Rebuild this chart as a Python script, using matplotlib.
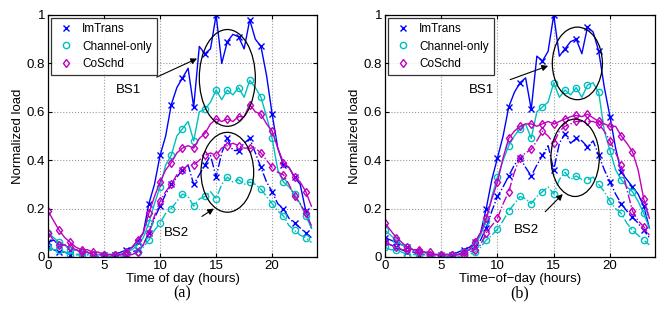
import numpy as np
import matplotlib
matplotlib.use("Agg")
import matplotlib.pyplot as plt
from matplotlib.patches import Ellipse
from matplotlib.lines import Line2D

plt.rcParams['font.family'] = ['Liberation Sans', 'DejaVu Sans']

# time axis: half-hour samples
hours = np.arange(48) * 0.5

# ---- panel (a) ----
a_imtrans_bs1 = [0.06,0.07,0.05,0.05,0.03,0.03,0.02,0.02,0.01,0.01,0.01,0.01,0.01,0.02,0.03,0.04,
                 0.06,0.10,0.22,0.30,0.42,0.50,0.63,0.70,0.74,0.78,0.62,0.87,0.84,0.86,1.00,0.80,
                 0.89,0.92,0.91,0.86,0.98,0.90,0.87,0.75,0.59,0.45,0.38,0.37,0.33,0.30,0.19,0.12]
a_channel_bs1 = [0.10,0.08,0.06,0.05,0.03,0.03,0.02,0.02,0.01,0.01,0.01,0.01,0.01,0.01,0.02,0.03,
                 0.05,0.08,0.14,0.22,0.29,0.38,0.42,0.50,0.53,0.56,0.48,0.60,0.61,0.64,0.69,0.65,
                 0.69,0.67,0.70,0.66,0.73,0.70,0.66,0.58,0.49,0.36,0.31,0.29,0.26,0.22,0.17,0.12]
a_coschd_bs1 = [0.19,0.15,0.11,0.08,0.06,0.04,0.03,0.03,0.02,0.02,0.01,0.01,0.01,0.01,0.02,0.04,
                0.07,0.10,0.18,0.25,0.31,0.36,0.39,0.43,0.45,0.46,0.45,0.49,0.51,0.55,0.57,0.56,
                0.57,0.56,0.58,0.58,0.63,0.60,0.59,0.55,0.52,0.45,0.39,0.37,0.33,0.31,0.27,0.21]
a_imtrans_bs2 = [0.04,0.03,0.02,0.02,0.01,0.01,0.01,0.01,0.01,0.00,0.00,0.00,0.01,0.01,0.01,0.02,
                 0.03,0.05,0.10,0.16,0.21,0.26,0.30,0.33,0.36,0.38,0.30,0.34,0.38,0.42,0.33,0.43,
                 0.49,0.44,0.44,0.47,0.49,0.43,0.37,0.31,0.27,0.22,0.20,0.16,0.14,0.12,0.10,0.08]
a_channel_bs2 = [0.04,0.03,0.03,0.02,0.01,0.01,0.01,0.01,0.00,0.00,0.00,0.00,0.00,0.00,0.01,0.01,
                 0.02,0.04,0.07,0.11,0.14,0.18,0.20,0.23,0.26,0.25,0.21,0.24,0.25,0.27,0.24,0.30,
                 0.33,0.31,0.32,0.30,0.31,0.30,0.28,0.25,0.22,0.19,0.17,0.13,0.11,0.09,0.08,0.06]
a_coschd_bs2 = [0.10,0.07,0.05,0.05,0.04,0.03,0.02,0.02,0.01,0.01,0.01,0.01,0.01,0.01,0.01,0.01,
                0.02,0.05,0.10,0.17,0.23,0.27,0.30,0.34,0.36,0.38,0.38,0.40,0.42,0.43,0.42,0.45,
                0.46,0.47,0.46,0.45,0.45,0.45,0.43,0.40,0.37,0.35,0.34,0.30,0.25,0.22,0.18,0.13]

# ---- panel (b) ----
b_imtrans_bs1 = [0.08,0.07,0.06,0.05,0.04,0.03,0.02,0.02,0.01,0.01,0.01,0.01,0.01,0.02,0.03,0.04,
                 0.06,0.10,0.20,0.32,0.41,0.50,0.62,0.68,0.72,0.74,0.61,0.83,0.81,0.85,1.00,0.83,
                 0.86,0.89,0.90,0.84,0.95,0.93,0.85,0.70,0.58,0.45,0.35,0.32,0.29,0.26,0.21,0.12]
b_channel_bs1 = [0.11,0.09,0.07,0.05,0.04,0.03,0.02,0.02,0.01,0.01,0.01,0.01,0.01,0.01,0.02,0.03,
                 0.05,0.09,0.15,0.25,0.33,0.40,0.46,0.50,0.53,0.55,0.49,0.60,0.62,0.64,0.72,0.66,
                 0.69,0.67,0.70,0.66,0.71,0.72,0.68,0.52,0.44,0.36,0.32,0.29,0.27,0.23,0.18,0.12]
b_coschd_bs1 = [0.14,0.11,0.08,0.06,0.04,0.03,0.03,0.02,0.02,0.01,0.01,0.01,0.01,0.01,0.02,0.03,
                0.06,0.10,0.16,0.24,0.31,0.41,0.49,0.52,0.54,0.55,0.55,0.54,0.55,0.56,0.55,0.56,
                0.57,0.58,0.585,0.58,0.59,0.575,0.56,0.55,0.54,0.54,0.50,0.47,0.435,0.36,0.24,0.16]
b_imtrans_bs2 = [0.06,0.05,0.04,0.03,0.02,0.02,0.01,0.01,0.01,0.01,0.00,0.00,0.01,0.01,0.02,0.03,
                 0.04,0.07,0.12,0.19,0.25,0.29,0.335,0.38,0.41,0.37,0.335,0.38,0.42,0.46,0.36,0.47,
                 0.51,0.47,0.49,0.48,0.455,0.48,0.42,0.36,0.31,0.26,0.22,0.19,0.165,0.14,0.11,0.08]
b_channel_bs2 = [0.04,0.03,0.03,0.02,0.01,0.01,0.01,0.01,0.00,0.00,0.00,0.00,0.00,0.00,0.01,0.01,
                 0.02,0.04,0.07,0.09,0.115,0.15,0.19,0.22,0.25,0.24,0.22,0.25,0.27,0.29,0.26,0.32,
                 0.35,0.32,0.335,0.32,0.32,0.33,0.30,0.27,0.23,0.20,0.18,0.14,0.11,0.09,0.07,0.05]
b_coschd_bs2 = [0.06,0.05,0.04,0.03,0.03,0.02,0.02,0.01,0.01,0.01,0.01,0.01,0.01,0.01,0.01,0.02,
                0.03,0.05,0.10,0.13,0.16,0.22,0.27,0.35,0.41,0.43,0.445,0.48,0.52,0.50,0.47,0.52,
                0.54,0.55,0.56,0.56,0.56,0.56,0.55,0.52,0.48,0.43,0.38,0.28,0.19,0.15,0.125,0.09]

series_names = ["ImTrans", "Channel-only", "CoSchd"]
colors = ["#0000ff", "#00bfbf", "#bf00bf"]
markers = ["x", "o", "d"]
xlabels = ["Time of day (hours)", "Time\u2212of\u2212day (hours)"]
panel_labels = ["(a)", "(b)"]

panels = [
    ([a_imtrans_bs1, a_channel_bs1, a_coschd_bs1], [a_imtrans_bs2, a_channel_bs2, a_coschd_bs2]),
    ([b_imtrans_bs1, b_channel_bs1, b_coschd_bs1], [b_imtrans_bs2, b_channel_bs2, b_coschd_bs2]),
]

# annotation geometry (data coords)
ellipses = [
    [((16.0, 0.74), 5.0, 0.40), ((16.0, 0.35), 4.7, 0.33)],
    [((17.1, 0.80), 4.45, 0.30), ((16.9, 0.41), 4.3, 0.32)],
]
annots = [
    [("BS1", (7.2, 0.69), (13.3, 0.82)), ("BS2", (11.5, 0.10), (14.8, 0.20))],
    [("BS1", (8.6, 0.69), (14.5, 0.79)), ("BS2", (12.6, 0.11), (15.8, 0.26))],
]

fig = plt.figure(figsize=(6.6, 3.26), dpi=100)
axes_pos = [[0.0727, 0.2117, 0.4076, 0.7423], [0.5833, 0.2117, 0.4091, 0.7423]]

for p in range(2):
    ax = fig.add_axes(axes_pos[p])
    bs1, bs2 = panels[p]
    for i in range(3):
        ax.plot(hours, bs2[i], linestyle='-.', color=colors[i], lw=1.0,
                marker=markers[i], markevery=2, ms=4.5 if markers[i] != 'x' else 4,
                mfc='none', mew=1.0)
        ax.plot(hours, bs1[i], linestyle='-', color=colors[i], lw=1.0,
                marker=markers[i], markevery=2, ms=4.5 if markers[i] != 'x' else 4,
                mfc='none', mew=1.0)
    for (c, w, h) in ellipses[p]:
        ax.add_patch(Ellipse(c, w, h, fill=False, ec='black', lw=0.9, zorder=5))
    for (txt, tpos, apos) in annots[p]:
        ax.annotate(txt, xy=apos, xytext=tpos, fontsize=9.5, ha='center', va='center',
                    arrowprops=dict(arrowstyle='-|>', color='black', lw=0.8,
                                    shrinkA=10, shrinkB=0, mutation_scale=9))
    ax.set_xlim(0, 24)
    ax.set_ylim(0, 1)
    ax.set_xticks([0, 5, 10, 15, 20])
    ax.set_yticks([0, 0.2, 0.4, 0.6, 0.8, 1])
    ax.set_yticklabels(["0", "0.2", "0.4", "0.6", "0.8", "1"])
    ax.tick_params(direction='in', top=True, right=True, labelsize=9.5, length=3, pad=2)
    ax.grid(True, linestyle=':', color='#999999', lw=0.8)
    ax.set_xlabel(xlabels[p], fontsize=9.5, labelpad=1)
    ax.set_ylabel("Normalized load", fontsize=9.5, labelpad=2)
    for s in ax.spines.values():
        s.set_linewidth(0.9)
    handles = [Line2D([], [], linestyle='none', marker=markers[i], color=colors[i],
                      mfc='none', ms=4.5, mew=1.0) for i in range(3)]
    leg = ax.legend(handles, series_names, loc='upper left', bbox_to_anchor=(0.0, 1.0),
                    borderaxespad=0.25,
                    fontsize=8.5, frameon=True, fancybox=False, edgecolor='black',
                    borderpad=0.45, labelspacing=0.45, handlelength=1.6, handletextpad=0.6)
    leg.get_frame().set_linewidth(0.9)
    fig.text(axes_pos[p][0] + axes_pos[p][2] / 2, 0.1, panel_labels[p], ha='center', va='center',
             fontsize=11.5, family='Liberation Serif')

fig.savefig("out.png", dpi=100)
